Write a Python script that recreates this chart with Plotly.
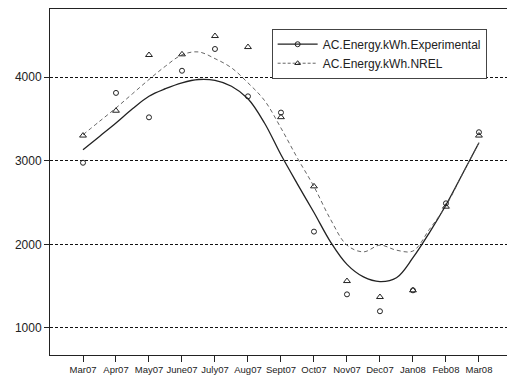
import plotly.graph_objects as go

months = ["Mar07", "Apr07", "May07", "June07", "July07", "Aug07", "Sept07",
          "Oct07", "Nov07", "Dec07", "Jan08", "Feb08", "Mar08"]
month_pos = list(range(1, 14))

exp_points = [2975, 3810, 3518, 4075, 4335, 3769, 3575, 2152, 1402, 1200, 1450, 2490, 3340]
nrel_points = [3300, 3597, 4263, 4271, 4490, 4358, 3520, 2693, 1561, 1370, 1450, 2450, 3300]

# smoothed curves at half-month steps
smooth_pos = [1, 1.5, 2, 2.5, 3, 3.5, 4, 4.5, 5, 5.5, 6, 6.5, 7, 7.5, 8, 8.5, 9, 9.5,
              10, 10.5, 11, 11.5, 12, 12.5, 13]
exp_smooth = [3130, 3290, 3450, 3620, 3770, 3860, 3930, 3970, 3960, 3890, 3740, 3450,
              3070, 2720, 2380, 2030, 1760, 1610, 1555, 1600, 1840, 2140, 2470, 2840, 3215]
nrel_smooth = [3310, 3470, 3630, 3800, 3970, 4130, 4265, 4300, 4220, 4110, 3930, 3720,
               3390, 3030, 2690, 2300, 1990, 1910, 1990, 1930, 1920, 2180, 2460, 2840, 3215]

y_ticks = [1000, 2000, 3000, 4000]

LINE_DARK = "#222222"
LINE_GREY = "#555555"

fig = go.Figure()

fig.add_trace(go.Scatter(x=smooth_pos, y=exp_smooth, mode="lines", line_shape="spline",
                         line=dict(color=LINE_DARK, width=1.3), showlegend=False,
                         hoverinfo="skip"))
fig.add_trace(go.Scatter(x=smooth_pos, y=nrel_smooth, mode="lines", line_shape="spline",
                         line=dict(color=LINE_GREY, width=0.9, dash="4px,3px"),
                         showlegend=False, hoverinfo="skip"))
fig.add_trace(go.Scatter(x=month_pos, y=exp_points, mode="markers", showlegend=False,
                         marker=dict(symbol="circle-open", size=5,
                                     color=LINE_DARK, line=dict(width=1))))
fig.add_trace(go.Scatter(x=month_pos, y=nrel_points, mode="markers", showlegend=False,
                         marker=dict(symbol="triangle-up-open", size=6,
                                     color=LINE_DARK, line=dict(width=1))))

# legend entries
fig.add_trace(go.Scatter(x=[None], y=[None], mode="lines+markers",
                         name="AC.Energy.kWh.Experimental",
                         line=dict(color=LINE_DARK, width=1.3),
                         marker=dict(symbol="circle-open", size=5, color=LINE_DARK)))
fig.add_trace(go.Scatter(x=[None], y=[None], mode="lines+markers",
                         name="AC.Energy.kWh.NREL",
                         line=dict(color=LINE_GREY, width=0.9, dash="3px,2px"),
                         marker=dict(symbol="triangle-up-open", size=5, color=LINE_DARK)))

fig.update_layout(
    width=507, height=381,
    margin=dict(l=50, r=0, t=9, b=26),
    paper_bgcolor="white", plot_bgcolor="white",
    font=dict(family="Liberation Sans, Arial, sans-serif", color="#222222"),
    legend=dict(x=0.485, y=0.943, xanchor="left", yanchor="top",
                bordercolor="#444444", borderwidth=1, bgcolor="white",
                font=dict(size=12, color="#222222"), itemwidth=40,
                tracegroupgap=0),
)

fig.update_xaxes(
    range=[0, 13.85], tickmode="array", tickvals=month_pos, ticktext=months,
    showgrid=False, zeroline=False, showline=True, mirror=True,
    linecolor=LINE_DARK, linewidth=1,
    ticks="outside", ticklen=6, tickcolor=LINE_DARK, tickangle=0,
    tickfont=dict(size=9.5, color="#222222"),
)
fig.update_yaxes(
    range=[677, 4813], tickmode="array", tickvals=y_ticks,
    showgrid=True, gridcolor="#111111", gridwidth=1, griddash="3px,2px",
    zeroline=False, showline=True, linecolor=LINE_DARK, linewidth=1,
    ticks="outside", ticklen=5, tickcolor=LINE_DARK,
    tickfont=dict(size=12, color="#222222"),
)

fig.write_html("out.html")
